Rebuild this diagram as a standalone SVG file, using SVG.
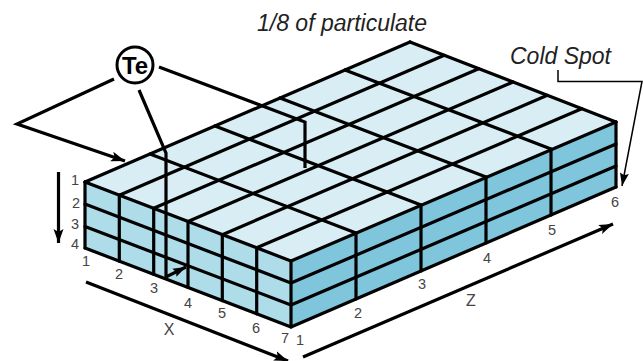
<svg xmlns="http://www.w3.org/2000/svg" width="643" height="361" viewBox="0 0 643 361">
<style>
.g{fill:none;stroke:#000;stroke-width:3.2;stroke-linecap:round;stroke-linejoin:miter}
.n{font-family:"Liberation Sans",Arial,sans-serif;font-size:14.500px;fill:#444;text-anchor:middle}
.t{font-family:"Liberation Sans",Arial,sans-serif;font-style:italic;font-size:23px;fill:#222}
.c{fill:none;stroke:#000;stroke-width:3.200;stroke-linecap:butt;stroke-linejoin:miter}
</style>
<defs>
<marker id="a" markerUnits="userSpaceOnUse" markerWidth="16" markerHeight="14" refX="14" refY="7" orient="auto"><path d="M0 2 L14 7 L0 12 L3 7 Z" fill="#000"/></marker>
<marker id="b" markerUnits="userSpaceOnUse" markerWidth="14" markerHeight="12" refX="13" refY="6" orient="auto"><path d="M0 1.500 L13 6 L0 10.500 L2 6 Z" fill="#000"/></marker>
</defs>
<g id="block">
<polygon points="85,182 410,42 616,122 291,261" fill="#d9eef4"/>
<polygon points="85,182 291,261 291,327 85,248" fill="#aedde9"/>
<polygon points="291,261 616,122 616,187 291,327" fill="#7fc5dc"/>
<path class="g" d="M85 182L410 42M119.300 195.200L444.300 55.300M153.700 208.300L478.700 68.700M188 221.500L513 82M222.300 234.700L547.300 95.300M256.700 247.800L581.700 108.700M291 261L616 122"/>
<path class="g" d="M85 182L291 261M150 154L356 233M215 126L421 205M280 98L486 177M345 70L551 149M410 42L616 122"/>
<path class="g" d="M85 204L291 283M85 226.500L291 305M85 248L291 327M291 283L616 144M291 305L616 166M291 327L616 187"/>
<path class="g" d="M85 182V248M119.300 195.200V261.200M153.700 208.300V274.300M188 221.500V287.500M222.300 234.700V300.700M256.700 247.800V313.800M291 261V327M356 233V299M421 205V271M486 177V243M551 149V215M616 122V187"/>
</g>
<g id="connectors">
<path class="c" d="M114 79L17 124L125 161" marker-end="url(#a)"/>
<path class="c" d="M159 67L305 122V168"/>
<path class="c" d="M139 90L166 153V277L186 267" marker-end="url(#b)"/>
<path class="c" d="M58.500 172V243" marker-end="url(#a)"/>
<path class="c" d="M86 282L288 361" marker-end="url(#a)"/>
<path class="c" d="M303 357L613 224" marker-end="url(#a)"/>
<path d="M558 70V81.500H642L622 186" fill="none" stroke="#000" stroke-width="1.500" marker-end="url(#b)"/>
</g>
<g id="te">
<circle cx="135" cy="65" r="18" fill="#fff" stroke="#000" stroke-width="3"/>
<text x="135" y="74" font-family="'Liberation Sans',Arial,sans-serif" font-size="24" font-weight="bold" text-anchor="middle">Te</text>
</g>
<g id="labels">
<text class="t" x="257" y="31">1/8 of particulate</text>
<text class="t" x="510" y="64">Cold Spot</text>
<text class="n" x="75" y="185">1</text><text class="n" x="76" y="208">2</text><text class="n" x="75" y="229">3</text><text class="n" x="75" y="249">4</text>
<text class="n" x="86" y="266">1</text><text class="n" x="119" y="279">2</text><text class="n" x="154" y="293">3</text><text class="n" x="188" y="308">4</text><text class="n" x="222" y="318">5</text><text class="n" x="256" y="333">6</text><text class="n" x="285" y="343">7</text>
<text class="n" x="300" y="345">1</text><text class="n" x="358" y="318">2</text><text class="n" x="422" y="289">3</text><text class="n" x="487" y="263">4</text><text class="n" x="552" y="235">5</text><text class="n" x="615" y="207">6</text>
<text class="n" x="169" y="335" style="font-size:16px">X</text><text class="n" x="471" y="306" style="font-size:16px">Z</text>
</g>
</svg>
